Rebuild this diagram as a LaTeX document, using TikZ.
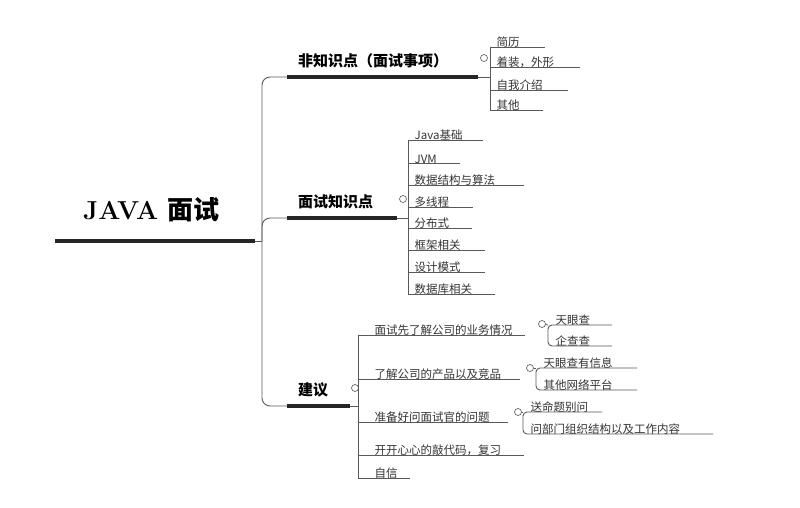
\documentclass[tikz,border=0pt]{standalone}
\usepackage{fontspec}
\newfontfamily\cjk{Noto Sans CJK SC}
\usetikzlibrary{positioning}
\begin{document}
\begin{tikzpicture}[
        x=1pt, y=-1pt,
        twig/.style = {draw=black!65, line width=0.9pt}, % thin connector lines
        bar/.style = {draw=black!85, line width=3.6pt},   % thick underline
        leaf/.style = {anchor=south west, inner sep=1.5pt, text=black!80,
                font=\cjk\fontsize{11.5}{12}\selectfont},
        topic/.style = {anchor=south west, inner sep=2pt,
                font=\cjk\bfseries\fontsize{15}{16}\selectfont},
        knob/.style = {circle, draw=black!60, line width=0.7pt, inner sep=0pt, minimum size=7pt},
    ]
    \useasboundingbox (0,0) rectangle (800,507);

    % root
    \node[anchor=south west, inner sep=0pt, font=\fontsize{26}{26}\selectfont\bfseries] (root)
        at (83,222) {JAVA {\cjk 面试}};
    \coordinate (root-s) at (55,241);
    \coordinate (root-e) at (255,241);
    \draw[bar] (root-s) -- (root-e);

    % main branches
    \node[topic] (b1) at (296,70) {非知识点（面试事项）};
    \node[topic] (b2) at (296,211) {面试知识点};
    \node[topic] (b3) at (296,399) {建议};
    \coordinate (b1-s) at (287,77);  \coordinate (b1-e) at (478,77);
    \coordinate (b2-s) at (287,218); \coordinate (b2-e) at (397,218);
    \coordinate (b3-s) at (287,406); \coordinate (b3-e) at (350,406);
    \draw[twig, rounded corners=8pt] (b1-e) -- (b1-s) -| (262,241) |- (b3-s) -- (b3-e);
    \draw[twig, rounded corners=8pt] (262,241) |- (b2-s);
    \draw[twig] (root-e) -- (262,241);
    \foreach \b in {b1,b2,b3}
        \draw[bar] (\b-s) -- (\b-e);

    % knobs
    \node[knob] (k1) at (484,58) {};
    \node[knob] (k2) at (403,199) {};
    \node[knob] (k3) at (355,388) {};

    % leaves of branch 1
    \draw[twig] (b1-e) -- (490,77);
    \draw[twig] (490,47) -- (490,110);
    \foreach \n/\y/\xe/\txt in {a1/47/545/简历, a2/67/580/着装，外形, a3/90/568/自我介绍, a4/110/543/其他}{
        \coordinate (\n-s) at (490,\y);
        \coordinate (\n-e) at (\xe,\y);
        \node[leaf] (\n) at ([xshift=5pt,yshift=-2pt]\n-s) {\txt};
        \draw[twig] (\n-s) -- (\n-e);
    }

    % leaves of branch 2
    \draw[twig] (b2-e) -- (408,218);
    \draw[twig] (408,140) -- (408,294);
    \foreach \n/\y/\xe/\txt in {c1/140/483/Java基础, c2/163/460/JVM, c3/185/524/数据结构与算法,
            c4/207/473/多线程, c5/228/472/分布式, c6/250/485/框架相关, c7/272/485/设计模式, c8/294/495/数据库相关}{
        \coordinate (\n-s) at (408,\y);
        \coordinate (\n-e) at (\xe,\y);
        \node[leaf] (\n) at ([xshift=5pt,yshift=-2pt]\n-s) {\txt};
        \draw[twig] (\n-s) -- (\n-e);
    }

    % leaves of branch 3
    \draw[twig] (b3-e) -- (358,406);
    \draw[twig] (358,335) -- (358,478);
    \foreach \n/\y/\xe/\txt in {d1/335/525/面试先了解公司的业务情况, d2/379/520/了解公司的产品以及竞品,
            d3/422/508/准备好问面试官的问题, d4/455/524/开开心心的敲代码，复习, d5/478/410/自信}{
        \coordinate (\n-s) at (358,\y);
        \coordinate (\n-e) at (\xe,\y);
        \node[leaf] (\n) at ([xshift=15pt,yshift=-2pt]\n-s) {\txt};
        \draw[twig] (\n-s) -- (\n-e);
    }

    % second level under branch 3
    \node[knob] (kd1) at (542,324) {};
    \node[knob] (kd2) at (530,368) {};
    \node[knob] (kd3) at (518,412) {};
    \foreach \n/\x/\ya/\yb/\xa/\xb/\ta/\tb in {
            e/548/325/346/612/612/天眼查/企查查,
            f/536/368/390/637/637/天眼查有信息/其他网络平台,
            g/523/412/434/602/713/送命题别问/问部门组织结构以及工作内容}{
        \coordinate (\n1-s) at (\x,\ya); \coordinate (\n1-e) at (\xa,\ya);
        \coordinate (\n2-s) at (\x,\yb); \coordinate (\n2-e) at (\xb,\yb);
        \draw[twig, rounded corners=4pt] (\n1-e) -- (\n1-s) -- (\n2-s) -- (\n2-e);
        \node[leaf] (\n1) at ([xshift=6pt,yshift=-2pt]\n1-s) {\ta};
        \node[leaf] (\n2) at ([xshift=6pt,yshift=-2pt]\n2-s) {\tb};
    }
    \draw[twig] (kd1) -- (e1-s);
    \draw[twig] (kd2) -- (f1-s);
    \draw[twig] (kd3) -- (g1-s);
\end{tikzpicture}
\end{document}
